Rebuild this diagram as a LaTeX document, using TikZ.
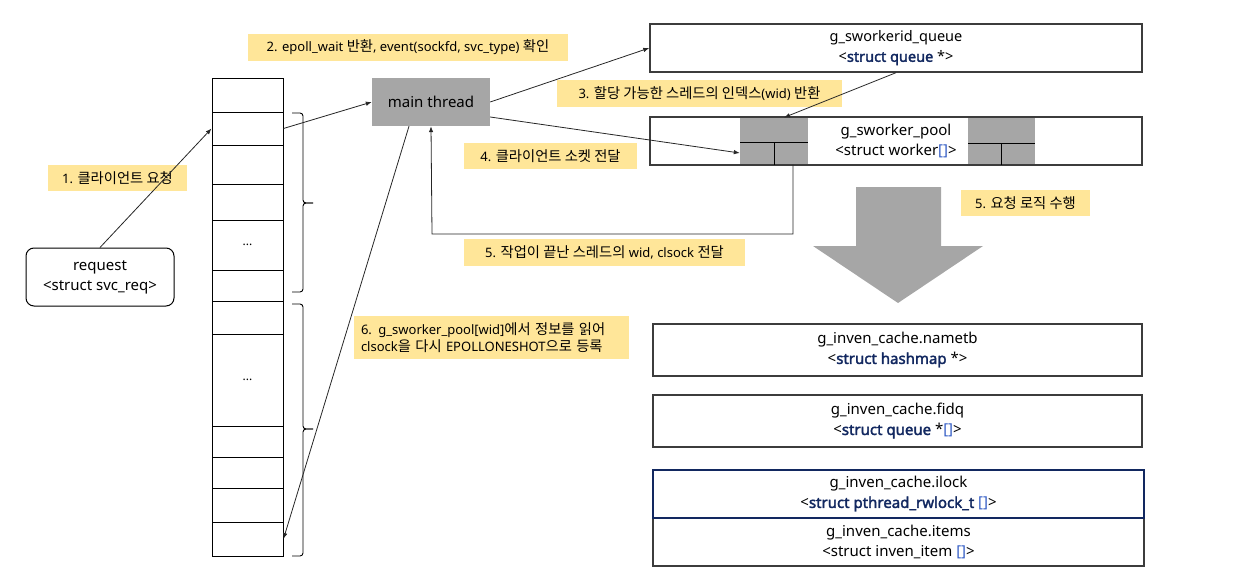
\documentclass[tikz,border=0pt]{standalone}
\usepackage{fontspec}
\setmainfont{Noto Sans}
\newfontfamily\krf{Noto Sans CJK KR}[Scale=1.1]
\newfontfamily\bdf{Noto Sans}[FakeBold=2.2]
\newcommand{\kr}[1]{{\krf #1}}
\usetikzlibrary{arrows.meta,calc}
\definecolor{lab}{HTML}{FFE699}
\definecolor{gr}{HTML}{A6A6A6}
\definecolor{bd}{HTML}{3C3C3C}
\definecolor{nv}{RGB}{18,40,96}
\definecolor{bl}{RGB}{48,90,196}
\newcommand{\nb}[1]{\textcolor{nv}{{\bdf #1}}}
\newcommand{\bk}{\textcolor{bl}{[]}}
\begin{document}
\begin{tikzpicture}[x=1pt,y=-1pt,
  every node/.style={inner sep=0pt},
  labbox/.style={fill=lab, align=center, font=\fontsize{13}{17}\selectfont},
  sbox/.style={draw=bd, line width=1.4pt, align=center, font=\fontsize{15}{20}\selectfont},
  cell/.style={draw=black, line width=0.9pt, minimum width=71pt},
  arr/.style={-{Latex[length=6pt,width=4.5pt]}, line width=0.8pt, draw=black!85},
  brace/.style={rounded corners=3pt, line width=0.9pt}
]
\useasboundingbox (0,0) rectangle (1241,583);
% labels
\node[labbox, minimum width=139pt, minimum height=26pt] (l1) at (117.5,178) {1. \kr{클라이언트 요청}};
\node[labbox, minimum width=320pt, minimum height=27pt] (l2) at (408,47.5) {2. epoll\_wait \kr{반환}, event(sockfd, svc\_type) \kr{확인}};
\node[labbox, minimum width=285pt, minimum height=27pt] (l3) at (699.5,93.5) {3. \kr{할당 가능한 스레드의 인덱스}(wid) \kr{반환}};
\node[labbox, minimum width=173pt, minimum height=26pt] (l4) at (550.5,156) {4. \kr{클라이언트 소켓 전달}};
\node[labbox, minimum width=281pt, minimum height=27pt] (l5) at (604.5,252.5) {5. \kr{작업이 끝난 스레드의} wid, clsock \kr{전달}};
\node[labbox, minimum width=129pt, minimum height=26pt] (l5b) at (1025.5,203) {5. \kr{요청 로직 수행}};
\node[labbox, minimum width=275pt, minimum height=43pt, align=left, text width=261pt, inner xsep=7pt] (l6) at (491.5,337.5)
  {6. g\_sworker\_pool[wid]\kr{에서 정보를 읽어}\\clsock\kr{을 다시} EPOLLONESHOT\kr{으로 등록}};
% request
\node[draw=black, line width=1pt, rounded corners=8pt, minimum width=148pt, minimum height=58pt, align=center, font=\fontsize{15}{20}\selectfont] (req) at (100,277)
  {request\\<struct svc\_req>};
% array cells
\foreach \n/\a/\b in {1/78/112,2/112/145,3/145/184,4/184/220,5/220/270,6/270/301,7/301/334,8/334/426,9/426/457,10/457/488,11/488/522,12/522/556}{
  \node[cell, minimum height={\b-\a}] (c\n) at (247.5,{(\a+\b)/2}) {};
}
\node[font=\fontsize{12}{14}\selectfont] at (c5) {...};
\node[font=\fontsize{12}{14}\selectfont] at (c8) {...};
% braces
\draw[brace] (292,113) -- (303,113) -- (303,203) -- (313,203);
\draw[brace] (313,203) -- (303,203) -- (303,292) -- (292,292);
\draw[brace] (292,304) -- (303,304) -- (303,429) -- (313,429);
\draw[brace] (313,429) -- (303,429) -- (303,556) -- (292,556);
% main thread
\node[fill=gr, minimum width=118pt, minimum height=48pt, font=\fontsize{15}{20}\selectfont] (main) at (431,102) {main thread};
% queue
\node[sbox, minimum width=492pt, minimum height=48pt, font=\fontsize{14.5}{20}\selectfont] (queue) at (896,48) {g\_sworkerid\_queue\\<\nb{struct queue} *>};
% pool
\node[sbox, minimum width=492pt, minimum height=48pt] (pool) at (896,141) {};
\node[fill=gr, minimum width=68pt, minimum height=46.6pt] (gb1) at (774,141) {};
\node[fill=gr, minimum width=67pt, minimum height=46.6pt] (gb2) at (1001.5,141) {};
\draw[line width=1pt] (740,142) -- (808,142) (774,142) -- (774,165);
\draw[line width=1pt] (968,143) -- (1035,143) (1001,143) -- (1001,165);
\draw[bd, line width=1.4pt] (pool.north west) rectangle (pool.south east);
\node[align=center, font=\fontsize{15}{20}\selectfont] (pooltxt) at (896,141) {g\_sworker\_pool\\<struct worker\bk>};
% big arrow
\fill[gr] (856,187) -- (941,187) -- (941,246) -- (983,246) -- (898,303) -- (813,246) -- (856,246) -- cycle;
% cache boxes
\node[sbox, minimum width=489pt, minimum height=52pt] (nametb) at (897.5,350) {g\_inven\_cache.nametb\\<\nb{struct hashmap} *>};
\node[sbox, minimum width=489pt, minimum height=52pt] (fidq) at (897.5,421) {g\_inven\_cache.fidq\\<\nb{struct queue} *\bk>};
\node[draw=bd, line width=1.4pt, minimum width=491pt, minimum height=48pt, align=center, font=\fontsize{15}{20}\selectfont] (items) at (898.5,542) {g\_inven\_cache.items\\<struct inven\_item \bk>};
\node[draw=nv, line width=1.1pt, minimum width=491pt, minimum height=48pt, align=center, font=\fontsize{15}{20}\selectfont] (ilock) at (898.5,494) {g\_inven\_cache.ilock\\<\nb{struct pthread\_rwlock\_t} \bk>};
% connectors
\draw[arr] (req.north) -- (c2.west);
\draw[arr] (c2.east) -- (main.west);
\draw[arr] (main.east) -- (queue.west);
\draw[arr] ([yshift=-15pt]main.east) -- ([yshift=-12pt]gb1.west);
\draw[arr] (queue.south) -- ([xshift=10pt]gb1.north);
\coordinate (ret) at (432,234);
\draw[arr] ([xshift=19pt]gb1.south) |- (ret) -- (main.south);
\draw[arr] ([xshift=-22pt]main.south) -- (c12.east);
\end{tikzpicture}
\end{document}
